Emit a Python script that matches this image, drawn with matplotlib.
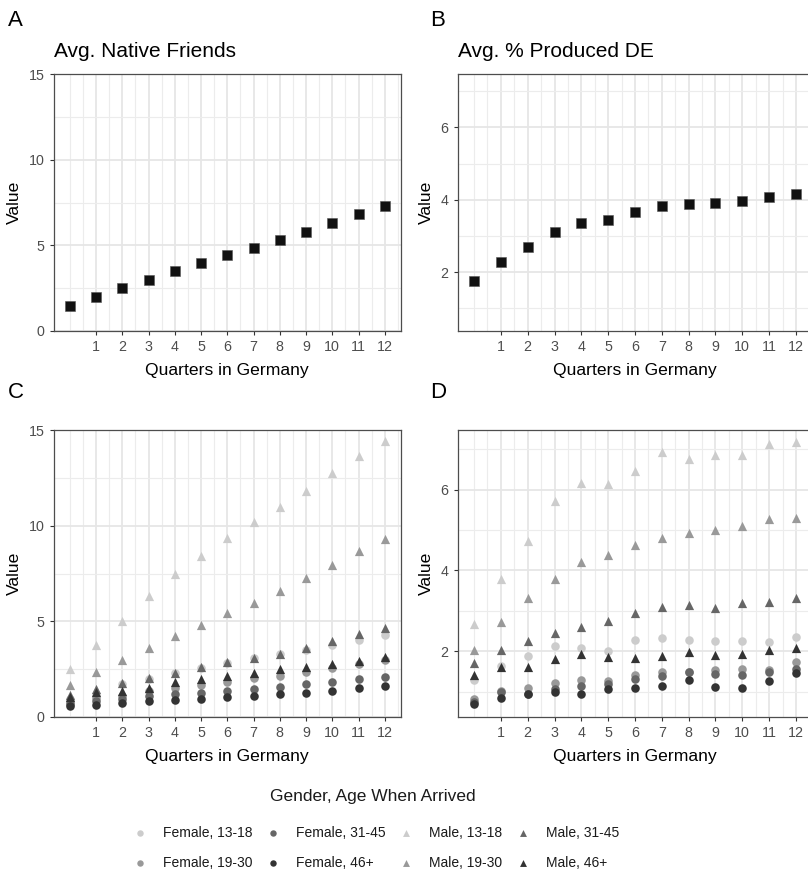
import matplotlib
matplotlib.use("Agg")
import matplotlib.pyplot as plt
import numpy as np

plt.rcParams['font.family'] = ['Liberation Sans', 'DejaVu Sans']

# ---------------- data ----------------
quarters = list(range(0, 13))
xtick_labels = [str(i) for i in range(1, 13)]

avg_native_friends = [1.43, 1.98, 2.49, 3.00, 3.49, 3.97, 4.41, 4.86, 5.29, 5.78, 6.29, 6.81, 7.30]
avg_produced_de = [1.74, 2.28, 2.70, 3.10, 3.35, 3.45, 3.66, 3.82, 3.89, 3.92, 3.97, 4.09, 4.15]

groups = ["Female, 13-18", "Female, 19-30", "Female, 31-45", "Female, 46+",
          "Male, 13-18", "Male, 19-30", "Male, 31-45", "Male, 46+"]

friends_by_group = {
    "Female, 13-18": [0.95, 1.15, 1.70, 1.96, 2.28, 2.54, 2.81, 3.07, 3.28, 3.49, 3.75, 4.04, 4.28],
    "Female, 19-30": [0.80, 0.98, 1.09, 1.35, 1.53, 1.68, 1.84, 2.02, 2.14, 2.35, 2.54, 2.75, 2.96],
    "Female, 31-45": [0.68, 0.82, 0.95, 1.09, 1.18, 1.26, 1.35, 1.47, 1.56, 1.70, 1.82, 1.96, 2.09],
    "Female, 46+":   [0.56, 0.65, 0.74, 0.86, 0.91, 0.96, 1.04, 1.09, 1.18, 1.26, 1.35, 1.53, 1.61],
    "Male, 13-18":   [2.49, 3.75, 5.04, 6.32, 7.46, 8.40, 9.33, 10.18, 10.96, 11.82, 12.75, 13.63, 14.42],
    "Male, 19-30":   [1.65, 2.37, 2.98, 3.61, 4.21, 4.82, 5.42, 5.98, 6.61, 7.26, 7.95, 8.67, 9.30],
    "Male, 31-45":   [1.15, 1.45, 1.78, 2.05, 2.30, 2.60, 2.85, 3.08, 3.30, 3.63, 3.98, 4.33, 4.65],
    "Male, 46+":     [1.05, 1.30, 1.35, 1.53, 1.82, 1.96, 2.14, 2.32, 2.49, 2.61, 2.79, 2.93, 3.14],
}

de_by_group = {
    "Female, 13-18": [1.28, 1.63, 1.87, 2.14, 2.08, 2.01, 2.27, 2.32, 2.28, 2.25, 2.25, 2.22, 2.34],
    "Female, 19-30": [0.82, 1.01, 1.10, 1.20, 1.29, 1.26, 1.40, 1.48, 1.49, 1.54, 1.56, 1.53, 1.73],
    "Female, 31-45": [0.74, 0.99, 0.95, 1.06, 1.14, 1.19, 1.30, 1.38, 1.49, 1.43, 1.42, 1.48, 1.56],
    "Female, 46+":   [0.68, 0.83, 0.93, 0.99, 0.93, 1.07, 1.08, 1.15, 1.29, 1.11, 1.10, 1.27, 1.47],
    "Male, 13-18":   [2.68, 3.79, 4.72, 5.72, 6.16, 6.14, 6.47, 6.94, 6.76, 6.85, 6.87, 7.13, 7.18],
    "Male, 19-30":   [2.03, 2.73, 3.31, 3.80, 4.21, 4.39, 4.63, 4.80, 4.93, 5.01, 5.09, 5.27, 5.29],
    "Male, 31-45":   [1.71, 2.02, 2.25, 2.46, 2.60, 2.74, 2.94, 3.09, 3.14, 3.08, 3.19, 3.22, 3.33],
    "Male, 46+":     [1.41, 1.60, 1.60, 1.80, 1.92, 1.85, 1.83, 1.89, 1.97, 1.90, 1.93, 2.02, 2.08],
}

group_colors = ["#cccccc", "#999999", "#666666", "#333333"] * 2
group_markers = ["o"] * 4 + ["^"] * 4

# ---------------- figure ----------------
W, H = 808, 874
fig = plt.figure(figsize=(W / 100, H / 100), dpi=100)


def px_axes(left, top, right, bottom):
    return fig.add_axes([left / W, 1 - bottom / H, (right - left) / W, (bottom - top) / H])


def style_axes(ax, ylim, ymajor, yminor):
    ax.set_xlim(-0.6, 12.6)
    ax.set_ylim(*ylim)
    ax.set_xticks(range(1, 13))
    ax.set_xticklabels(xtick_labels)
    ax.set_xticks([0] + [i + 0.5 for i in range(0, 13)], minor=True)
    ax.set_yticks(ymajor)
    ax.set_yticklabels([str(v) for v in ymajor])
    ax.set_yticks(yminor, minor=True)
    ax.grid(True, which="major", color="#e6e6e6", linewidth=1.3, zorder=0)
    ax.grid(True, which="minor", color="#ececec", linewidth=0.8, zorder=0)
    ax.set_axisbelow(True)
    for s in ax.spines.values():
        s.set_color("#4d4d4d")
        s.set_linewidth(0.9)
    ax.tick_params(which="major", length=3.2, width=0.8, color="#333333",
                   labelcolor="#4d4d4d", labelsize=10.3, pad=3.5)
    ax.tick_params(which="minor", length=0)
    ax.set_xlabel("Quarters in Germany", fontsize=12.6, labelpad=6)
    ax.set_ylabel("Value", fontsize=12.6, labelpad=5)


axA = px_axes(54, 74, 400.5, 331)
axB = px_axes(458, 74, 812, 331)
axC = px_axes(54, 430, 400.5, 717)
axD = px_axes(458, 430, 812, 717)

axA.scatter(quarters, avg_native_friends, marker="s", s=58, color="#111111",
            edgecolors="#555555", linewidths=0.4, zorder=3)
axB.scatter(quarters, avg_produced_de, marker="s", s=58, color="#111111",
            edgecolors="#555555", linewidths=0.4, zorder=3)

handles = []
for g, c, m in zip(groups, group_colors, group_markers):
    sz = 38 if m == "o" else 44
    h = axC.scatter(quarters, friends_by_group[g], marker=m, s=sz, color=c,
                    linewidths=0, zorder=3, label=g)
    axD.scatter(quarters, de_by_group[g], marker=m, s=sz, color=c,
                linewidths=0, zorder=3)
    handles.append(h)

style_axes(axA, (0, 15), [0, 5, 10, 15], [2.5, 7.5, 12.5])
style_axes(axC, (0, 15), [0, 5, 10, 15], [2.5, 7.5, 12.5])
style_axes(axB, (0.37, 7.48), [2, 4, 6], [1, 3, 5, 7])
style_axes(axD, (0.37, 7.48), [2, 4, 6], [1, 3, 5, 7])

axA.set_title("Avg. Native Friends", loc="left", fontsize=15, pad=12)
axB.set_title("Avg. % Produced DE", loc="left", fontsize=15, pad=12)

for lab, x, y in [("A", 8, 20), ("B", 430, 20), ("C", 8, 392), ("D", 430, 392)]:
    fig.text(x / W, 1 - y / H, lab, fontsize=16, ha="left", va="center")

fig.text(373 / W, 1 - 797 / H, "Gender, Age When Arrived", fontsize=12.5,
         ha="center", va="center", color="#1a1a1a")

leg = fig.legend(handles=handles, labels=groups, ncol=4, loc="upper center",
                 bbox_to_anchor=(376 / W, 1 - 816 / H), frameon=False,
                 fontsize=10, handletextpad=1.15, columnspacing=1.0,
                 labelspacing=1.15, markerscale=0.75, handlelength=1.0,
                 borderpad=0.2)
for t in leg.get_texts():
    t.set_color("#1a1a1a")

fig.savefig("out.png", dpi=100)
